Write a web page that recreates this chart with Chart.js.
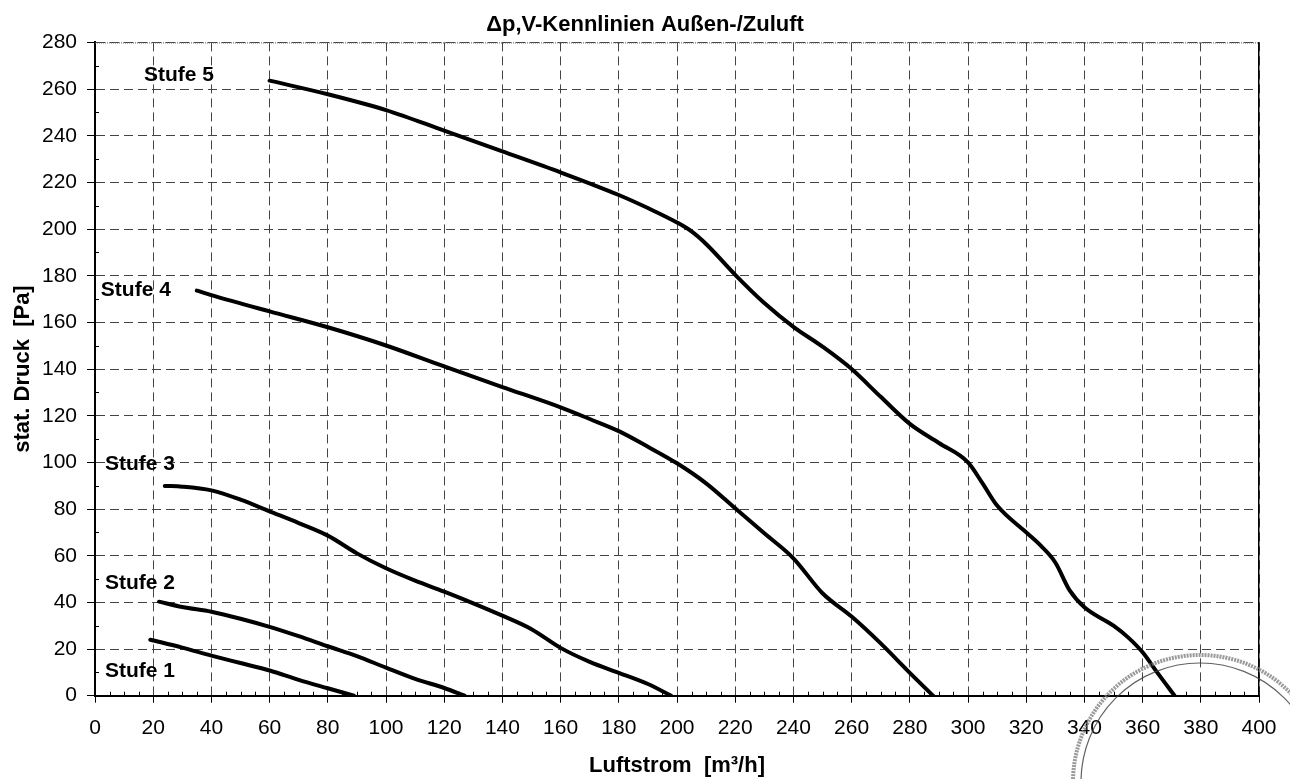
<!DOCTYPE html>
<html lang="de">
<head>
<meta charset="utf-8">
<title>Δp,V-Kennlinien Außen-/Zuluft</title>
<script src="https://cdn.jsdelivr.net/npm/chart.js@4.4.1/dist/chart.umd.min.js"></script>
<style>
  html, body { margin: 0; padding: 0; background: #fff; }
  canvas { display: block; }
</style>
</head>
<body>
<canvas id="kennlinien" width="1290" height="779"></canvas>
<script>
// ---- Daten ----
const flow1 = [19, 30, 40, 50, 60, 70, 80, 89];
const press1 = [24, 20.6, 17.2, 14, 10.8, 6.8, 3.2, 0];

const flow2 = [22, 30, 40, 50, 60, 70, 80, 90, 100, 110, 120, 127];
const press2 = [40.3, 38, 36, 33, 29.5, 25.5, 21.2, 17, 12, 7.2, 3.3, 0];

const flow3 = [24, 30, 40, 50, 60, 70, 80, 90, 100, 110, 120, 130, 140, 150, 160, 170, 180, 190, 198];
const press3 = [89.9, 89.6, 88, 84, 79, 74, 68.6, 61, 54.6, 49.3, 44.6, 39.6, 34.3, 28.5, 20.5, 14.5, 9.8, 5, 0];

const flow4 = [35, 40, 60, 80, 100, 120, 140, 160, 170, 180, 190, 200, 210, 220, 230, 240, 250, 260, 270, 280, 288];
const press4 = [173.6, 171.7, 164.7, 157.9, 150.1, 141.1, 132.3, 123.6, 118.6, 113.4, 106.7, 99.6, 91, 80.3, 69.6, 58.9, 43.9, 33.9, 22.4, 9.8, 0];

const flow5 = [60, 80, 100, 120, 140, 160, 180, 190, 200, 205, 210, 220, 230, 240, 250, 260, 270, 280, 290, 300, 305, 310, 320, 325, 330, 335, 340, 350, 355, 360, 365, 371];
const press5 = [263.6, 257.8, 251, 242.2, 233.3, 224.3, 214.6, 209, 202.8, 199, 193.6, 180.4, 168.3, 158.1, 149.6, 140, 128.1, 116.5, 108.3, 100, 91, 81.5, 70, 64.3, 57.1, 45, 37.9, 30, 25, 18.6, 10, 0];

const stufenNamen = ['Stufe 1', 'Stufe 2', 'Stufe 3', 'Stufe 4', 'Stufe 5'];

const xTicks = { min: 0, max: 400, step: 20 };
const yTicks = { min: 0, max: 280, step: 20 };

const FONT = '"Liberation Sans", Arial, sans-serif';

function toPoints(xs, ys) {
  return xs.map((x, i) => ({ x: x, y: ys[i] }));
}

const serien = [
  [flow1, press1], [flow2, press2], [flow3, press3], [flow4, press4], [flow5, press5]
];

// Beschriftung "Stufe n" (Datenkoordinaten, linker Rand / Mitte)
const stufenAnker = [
  { x: 3.4, y: 10.3 },
  { x: 3.4, y: 48.1 },
  { x: 3.4, y: 99.2 },
  { x: 2, y: 173.7 },
  { x: 16.8, y: 265.8 }
];

// oberer Rand, Nebenstriche, Stufen-Texte, Stempel
const deko = {
  id: 'deko',
  beforeDatasetsDraw(chart) {
    const { ctx, chartArea: a, scales: { x, y } } = chart;
    ctx.save();
    // oberer Rand gepunktet
    ctx.strokeStyle = '#555';
    ctx.lineWidth = 1;
    ctx.setLineDash([1, 1]);
    ctx.beginPath();
    ctx.moveTo(a.left, a.top + 0.5);
    ctx.lineTo(a.right, a.top + 0.5);
    ctx.stroke();
    ctx.setLineDash([]);
    // Nebenstriche
    ctx.strokeStyle = '#000';
    ctx.lineWidth = 1;
    for (let v = xTicks.min + 5; v < xTicks.max; v += 5) {
      if (v % xTicks.step === 0) continue;
      const px = Math.round(x.getPixelForValue(v)) + 0.5;
      ctx.beginPath();
      ctx.moveTo(px, a.bottom);
      ctx.lineTo(px, a.bottom - 4);
      ctx.stroke();
    }
    for (let v = yTicks.min + 10; v < yTicks.max; v += yTicks.step) {
      const py = Math.round(y.getPixelForValue(v)) + 0.5;
      ctx.beginPath();
      ctx.moveTo(a.left, py);
      ctx.lineTo(a.left + 4, py);
      ctx.stroke();
    }
    // Stufen-Texte
    ctx.fillStyle = '#000';
    ctx.font = 'bold 21px ' + FONT;
    ctx.textAlign = 'left';
    ctx.textBaseline = 'middle';
    stufenNamen.forEach((name, i) => {
      ctx.fillText(name, x.getPixelForValue(stufenAnker[i].x), y.getPixelForValue(stufenAnker[i].y));
    });
    ctx.restore();
  },
  afterDraw(chart) {
    // Stempel unten rechts (angeschnitten)
    const { ctx } = chart;
    ctx.save();
    ctx.strokeStyle = 'rgba(120,120,120,0.75)';
    ctx.lineWidth = 4;
    ctx.setLineDash([2, 1]);
    ctx.beginPath();
    ctx.arc(1200, 782, 127, Math.PI, 2 * Math.PI);
    ctx.stroke();
    ctx.setLineDash([]);
    ctx.lineWidth = 1.2;
    ctx.strokeStyle = 'rgba(60,60,60,0.8)';
    ctx.beginPath();
    ctx.arc(1200, 782, 119, Math.PI, 2 * Math.PI);
    ctx.stroke();
    ctx.restore();
  }
};

new Chart(document.getElementById('kennlinien'), {
  type: 'line',
  data: {
    datasets: serien.map((s, i) => ({
      label: stufenNamen[i],
      data: toPoints(s[0], s[1]),
      borderColor: '#000',
      borderWidth: 4,
      pointRadius: 0,
      fill: false,
      cubicInterpolationMode: 'monotone',
      borderCapStyle: 'round'
    }))
  },
  options: {
    responsive: false,
    animation: false,
    layout: { padding: 0 },
    plugins: {
      legend: { display: false },
      tooltip: { enabled: false },
      title: {
        display: true,
        text: 'Δp,V-Kennlinien Außen-/Zuluft',
        color: '#000',
        font: { family: FONT, size: 22, weight: 'bold' },
        padding: { top: 12, bottom: 4 }
      }
    },
    scales: {
      x: {
        type: 'linear',
        min: xTicks.min,
        max: xTicks.max,
        afterFit: (scale) => { scale.height = 83.3; },
        ticks: {
          stepSize: xTicks.step,
          color: '#000',
          padding: 13,
          maxRotation: 0,
          font: { family: FONT, size: 21 }
        },
        grid: { color: '#444', lineWidth: 1, tickColor: '#000', tickLength: 7 },
        border: { display: true, color: '#000', width: 2, dash: [9, 5] },
        title: {
          display: true,
          text: 'Luftstrom  [m³/h]',
          color: '#000',
          font: { family: FONT, size: 22, weight: 'bold' },
          padding: { top: 0, bottom: 0 }
        }
      },
      y: {
        min: yTicks.min,
        max: yTicks.max,
        afterFit: (scale) => { scale.width = 95; },
        ticks: {
          stepSize: yTicks.step,
          color: '#000',
          padding: 10,
          font: { family: FONT, size: 21 }
        },
        grid: { color: '#444', lineWidth: 1, tickColor: '#000', tickLength: 8 },
        border: { display: true, color: '#000', width: 2, dash: [9, 5] },
        title: {
          display: true,
          text: 'stat. Druck  [Pa]',
          color: '#000',
          font: { family: FONT, size: 22, weight: 'bold' },
          padding: { top: 10, bottom: 0 }
        }
      },
      // rechter Rahmen
      yRechts: {
        position: 'right',
        min: yTicks.min,
        max: yTicks.max,
        afterFit: (scale) => { scale.width = 31; },
        ticks: { display: false },
        grid: { drawOnChartArea: false, drawTicks: false },
        border: { display: true, color: '#000', width: 1.5 }
      }
    }
  },
  plugins: [deko]
});
</script>
</body>
</html>
